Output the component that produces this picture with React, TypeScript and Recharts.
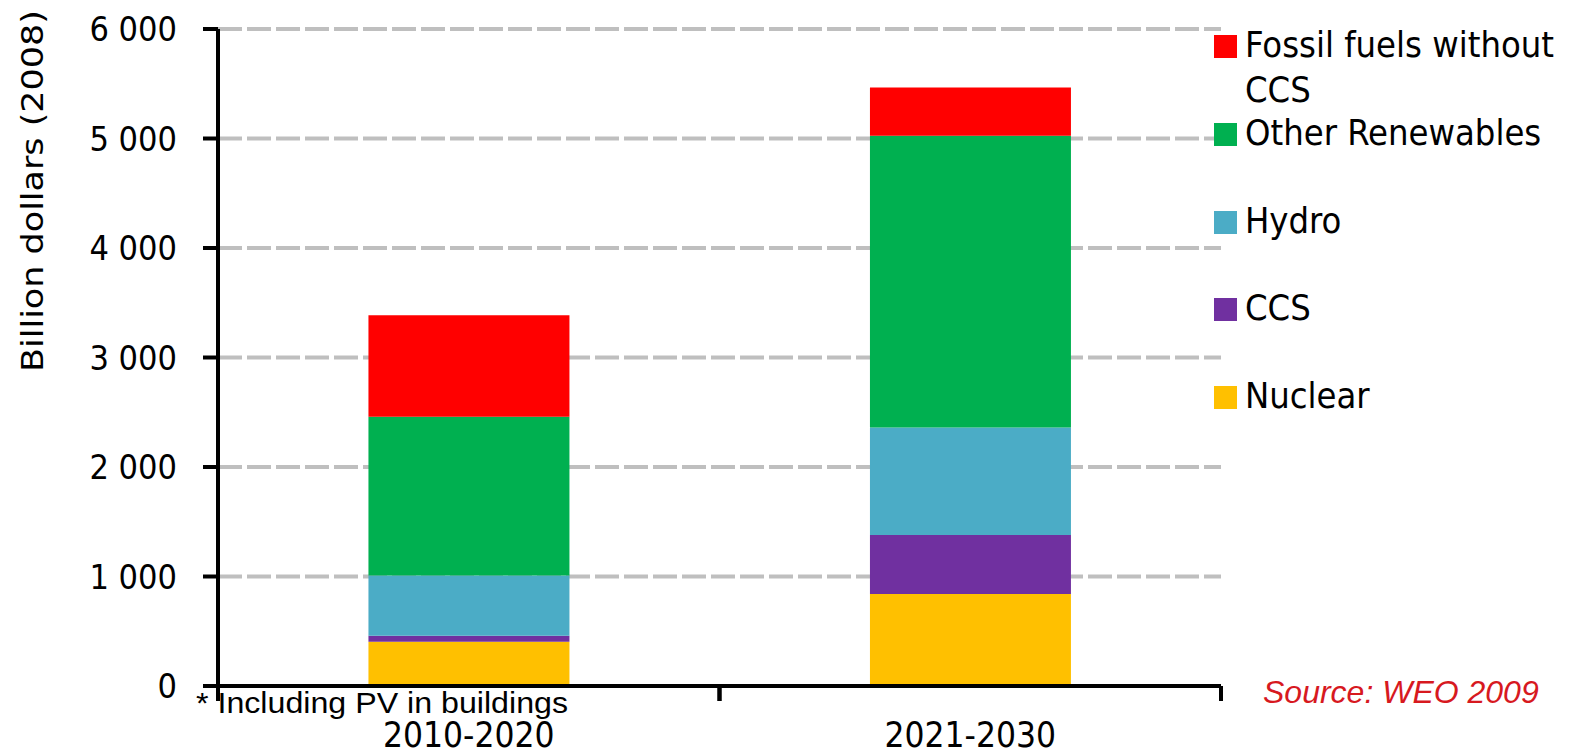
import { BarChart, Bar, XAxis, YAxis, CartesianGrid } from "recharts"

const categories = ["2010-2020", "2021-2030"]
const nuclear = [405, 840]
const ccs = [55, 540]
const hydro = [550, 980]
const otherRenewables = [1450, 2665]
const fossilNoCcs = [925, 440]
const yTicks = [0, 1000, 2000, 3000, 4000, 5000, 6000]

// stacked bottom -> top
const series = [
  { key: "nuclear", name: "Nuclear", color: "#FFC000", values: nuclear },
  { key: "ccs", name: "CCS", color: "#7030A0", values: ccs },
  { key: "hydro", name: "Hydro", color: "#4BACC6", values: hydro },
  { key: "other", name: "Other Renewables", color: "#00B050", values: otherRenewables },
  { key: "fossil", name: "Fossil fuels without CCS", color: "#FF0000", values: fossilNoCcs },
]

const data = categories.map((category, i) => {
  const row: Record<string, string | number> = { category }
  series.forEach((s) => (row[s.key] = s.values[i]))
  return row
})

const W = 1578
const H = 754
const MARGIN = { top: 29, right: 357, bottom: 0, left: 0 }
const Y_W = 218
const X_H = 68
const halfBand = (W - MARGIN.right - MARGIN.left - Y_W) / categories.length / 2

const CONDENSED = "'DejaVu Sans Condensed', 'DejaVu Sans', sans-serif"
const ARIAL = "'Liberation Sans', Arial, sans-serif"

const fmt = (v: number) => String(v).replace(/\B(?=(\d{3})+(?!\d))/g, " ")

function CategoryTick({ x, y, payload }: any) {
  // excel style: tick marks sit on the band edges, label in the middle
  return (
    <g>
      <line x1={x - halfBand} x2={x - halfBand} y1={y - 17} y2={y - 2} stroke="#000" strokeWidth={4} />
      <line x1={x + halfBand} x2={x + halfBand} y1={y - 17} y2={y - 2} stroke="#000" strokeWidth={4} />
      <text x={x} y={y} dy={44} textAnchor="middle" fontSize={35} fontFamily={CONDENSED} fill="#000">
        {payload.value}
      </text>
    </g>
  )
}

export default function App() {
  const legendItems = [...series].reverse()
  return (
    <div style={{ position: "absolute", left: 0, top: 0, width: W, height: H, background: "#fff" }}>
      <BarChart width={W} height={H} data={data} margin={MARGIN} barCategoryGap="30%">
        <CartesianGrid vertical={false} stroke="#BFBFBF" strokeWidth={4} strokeDasharray="24 5" />
        <XAxis
          dataKey="category"
          height={X_H}
          interval={0}
          tickSize={15}
          tickLine={false}
          axisLine={{ stroke: "#000", strokeWidth: 4 }}
          tick={<CategoryTick />}
        />
        <YAxis
          width={Y_W}
          domain={[0, 6000]}
          ticks={yTicks}
          interval={0}
          tickSize={15}
          tickMargin={26}
          tickFormatter={fmt}
          axisLine={{ stroke: "#000", strokeWidth: 4 }}
          tickLine={{ stroke: "#000", strokeWidth: 4 }}
          tick={{ fill: "#000", fontSize: 34, fontFamily: CONDENSED }}
        />
        {series.map((s) => (
          <Bar key={s.key} dataKey={s.key} name={s.name} stackId="a" fill={s.color} isAnimationActive={false} />
        ))}
      </BarChart>

      <svg width={W} height={H} style={{ position: "absolute", left: 0, top: 0, pointerEvents: "none" }}>
        <text
          transform="translate(43, 191) rotate(-90)"
          textAnchor="middle"
          fontSize={31}
          fontFamily={CONDENSED}
          textLength={362}
          lengthAdjust="spacingAndGlyphs"
          fill="#000"
        >
          Billion dollars (2008)
        </text>
        <text x={196} y={713} fontSize={29} fontFamily={ARIAL} textLength={372} lengthAdjust="spacingAndGlyphs" fill="#000">
          * Including PV in buildings
        </text>
        <text x={1263} y={703} fontSize={32} fontStyle="italic" fontFamily={ARIAL} fill="#D7191F">
          Source: WEO 2009
        </text>
      </svg>

      {legendItems.map((s, i) => (
        <div key={s.key} style={{ position: "absolute", left: 1214, top: 22 + i * 87.8, width: 360 }}>
          <div style={{ position: "absolute", left: 0, top: 13, width: 23, height: 23, background: s.color }} />
          <div
            style={{
              marginLeft: 31,
              width: 325,
              fontFamily: CONDENSED,
              fontSize: 36,
              lineHeight: "45px",
              color: "#000",
            }}
          >
            {s.name}
          </div>
        </div>
      ))}
    </div>
  )
}
